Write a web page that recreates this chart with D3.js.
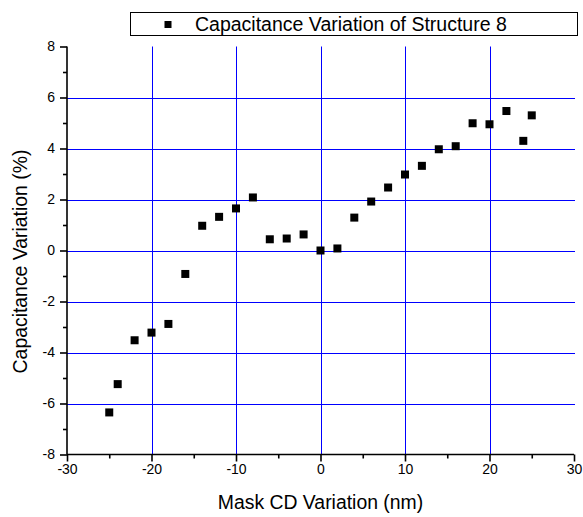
<!DOCTYPE html>
<html><head><meta charset="utf-8">
<script src="https://cdn.jsdelivr.net/npm/d3@7"></script>
<style>body{margin:0;background:#fff}svg{display:block}text{font-family:"Liberation Sans",Arial,sans-serif;fill:#000}</style>
</head><body><svg id="c" width="583" height="517"></svg>
<script>
const xValues = [-25,-24,-22,-20,-18,-16,-14,-12,-10,-8,-6,-4,-2,0,2,4,6,8,10,12,14,16,18,20,22,24,25];
const yValues = [-6.35,-5.24,-3.52,-3.22,-2.88,-0.92,0.97,1.32,1.65,2.08,0.44,0.47,0.63,0,0.08,1.29,1.92,2.47,2.98,3.32,3.97,4.09,4.99,4.95,5.47,4.30,5.30];
const xTicks = [-30,-20,-10,0,10,20,30];
const yTicks = [-8,-6,-4,-2,0,2,4,6,8];
const xGrid = [-20,-10,0,10,20];
const yGrid = [-6,-4,-2,0,2,4,6];
const seriesName = "Capacitance Variation of Structure 8";
const xTitle = "Mask CD Variation (nm)";
const yTitle = "Capacitance Variation (%)";

const svg = d3.select("#c");
const L=67,R=574,T=46.5,B=454.5;
const x = d3.scaleLinear().domain([-30,30]).range([L,R]);
const y = d3.scaleLinear().domain([-8,8]).range([B,T]);
const fmt = d => String(d); // plain hyphen-minus like the original

const g = svg.append("g");
g.selectAll(".vg").data(xGrid).enter().append("line")
 .attr("x1",d=>Math.round(x(d))+0.5).attr("x2",d=>Math.round(x(d))+0.5)
 .attr("y1",T).attr("y2",B).attr("stroke","#0000ff").attr("stroke-width",1);
g.selectAll(".hg").data(yGrid).enter().append("line")
 .attr("y1",d=>Math.round(y(d))+0.5).attr("y2",d=>Math.round(y(d))+0.5)
 .attr("x1",L).attr("x2",R+1).attr("stroke","#0000ff").attr("stroke-width",1);

const xMinor = d3.range(-25,30,10);
const yMinor = d3.range(-7,8,2);
const ax = svg.append("g").attr("transform",`translate(0,${B})`)
 .call(d3.axisBottom(x).tickValues(xTicks).tickSize(7).tickPadding(3).tickFormat(fmt));
ax.select(".domain").attr("stroke","#000").attr("stroke-width",1.6).attr("d",`M${L},0H${R}`);
ax.selectAll(".tick line").attr("stroke","#000").attr("stroke-width",1.6);
ax.selectAll("text").attr("font-size",14).attr("fill","#000");
svg.append("g").attr("transform",`translate(0,${B})`).call(d3.axisBottom(x).tickValues(xMinor).tickSize(4).tickFormat(""))
 .call(s=>{s.select(".domain").remove();s.selectAll("line").attr("stroke","#000").attr("stroke-width",1.6);});

const ay = svg.append("g").attr("transform",`translate(${L},0)`)
 .call(d3.axisLeft(y).tickValues(yTicks).tickSize(7).tickPadding(5).tickFormat(fmt));
ay.select(".domain").attr("stroke","#000").attr("stroke-width",1.6).attr("d",`M0,${T}V${B}`);
ay.selectAll(".tick line").attr("stroke","#000").attr("stroke-width",1.6);
ay.selectAll("text").attr("font-size",14).attr("fill","#000");
svg.append("g").attr("transform",`translate(${L},0)`).call(d3.axisLeft(y).tickValues(yMinor).tickSize(4).tickFormat(""))
 .call(s=>{s.select(".domain").remove();s.selectAll("line").attr("stroke","#000").attr("stroke-width",1.6);});
svg.selectAll(".domain").attr("fill","none");

const data = xValues.map((v,i)=>({x:v,y:yValues[i]}));
const ms=8;
svg.append("g").selectAll("rect").data(data).enter().append("rect")
 .attr("x",d=>x(d.x)-ms/2).attr("y",d=>y(d.y)-ms/2).attr("width",ms).attr("height",ms).attr("fill","#000");

svg.append("text").attr("x",320.5).attr("y",509).attr("text-anchor","middle").attr("font-size",19.4).text(xTitle);
svg.append("text").attr("transform",`translate(27,261.5) rotate(-90)`).attr("text-anchor","middle").attr("font-size",19.4).text(yTitle);

svg.append("rect").attr("x",130.5).attr("y",12.5).attr("width",447).attr("height",23).attr("fill","#fff").attr("stroke","#000").attr("stroke-width",1);
svg.append("rect").attr("x",168-3.5).attr("y",24.5-3.5).attr("width",7).attr("height",7).attr("fill","#000");
svg.append("text").attr("x",195).attr("y",31).attr("font-size",19.5).text(seriesName);
</script></body></html>
